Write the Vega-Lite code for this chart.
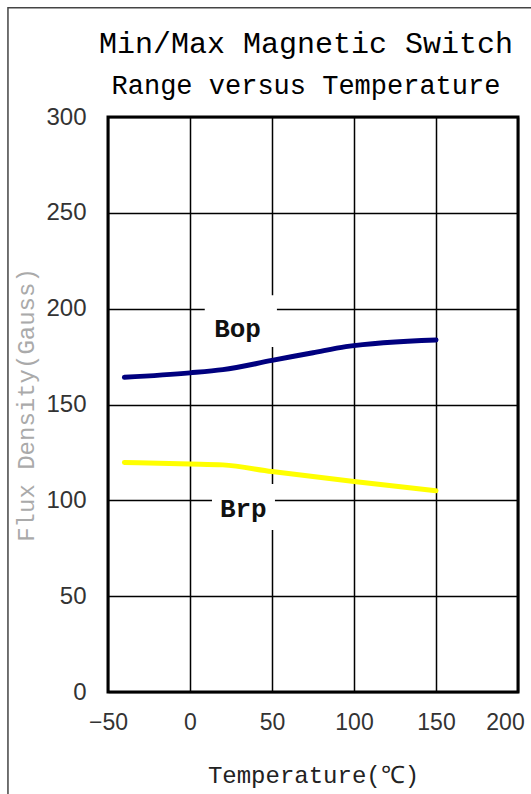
{
  "$schema": "https://vega.github.io/schema/vega-lite/v6.json",
  "autosize": "none",
  "width": 410,
  "height": 575,
  "padding": {"left": 108, "top": 117, "right": 13, "bottom": 102},
  "background": "white",
  "config": {
    "view": {"stroke": "black", "strokeWidth": 3},
    "axis": {"domain": false, "ticks": false, "gridColor": "black", "gridWidth": 1.5, "gridOpacity": 1}
  },
  "title": {
    "text": "Min/Max Magnetic Switch",
    "subtitle": "Range versus Temperature",
    "font": "Liberation Mono",
    "fontSize": 30,
    "fontWeight": "normal",
    "color": "black",
    "subtitleFont": "Liberation Mono",
    "subtitleFontSize": 27,
    "subtitleColor": "black",
    "subtitlePadding": 14,
    "offset": -92,
    "dx": -7
  },
  "datasets": {
    "curves": [
      {"series": "Bop", "temp": -40, "flux": 164.2},
      {"series": "Bop", "temp": 0, "flux": 166.5},
      {"series": "Bop", "temp": 20, "flux": 168.2},
      {"series": "Bop", "temp": 50, "flux": 173},
      {"series": "Bop", "temp": 75, "flux": 177},
      {"series": "Bop", "temp": 95, "flux": 180.2},
      {"series": "Bop", "temp": 150, "flux": 183.7},
      {"series": "Brp", "temp": -40, "flux": 119.8},
      {"series": "Brp", "temp": 0, "flux": 119},
      {"series": "Brp", "temp": 20, "flux": 118.5},
      {"series": "Brp", "temp": 50, "flux": 115},
      {"series": "Brp", "temp": 100, "flux": 109.8},
      {"series": "Brp", "temp": 150, "flux": 105}
    ],
    "labels": [
      {"series": "Bop", "temp": 29, "flux": 185.2, "x1": 9, "x2": 53, "y1": 180, "y2": 207},
      {"series": "Brp", "temp": 32.5, "flux": 91.3, "x1": 13.4, "x2": 51.8, "y1": 84.5, "y2": 108.5}
    ]
  },
  "layer": [
    {
      "data": {"name": "labels"},
      "mark": {"type": "rect", "fill": "white", "stroke": null},
      "encoding": {
        "x": {"field": "x1", "type": "quantitative",
          "scale": {"domain": [-50, 200], "nice": false, "zero": false},
          "axis": {"values": [-50, 0, 50, 100, 150, 200], "title": "Temperature(℃)",
            "titleFont": "Liberation Mono", "titleFontSize": 24, "titleFontWeight": "normal", "titleColor": "#222",
            "titlePadding": 29,
            "labelFlush": false,
            "labelFont": "Liberation Sans", "labelFontSize": 23, "labelColor": "#333", "labelPadding": 19,
            "labelOffset": {"condition": {"test": "datum.value == 200", "value": -13}, "value": 0}}},
        "x2": {"field": "x2"},
        "y": {"field": "y1", "type": "quantitative",
          "scale": {"domain": [0, 300], "nice": false},
          "axis": {"values": [0, 50, 100, 150, 200, 250, 300], "title": "Flux Density(Gauss)",
            "titleFont": "Liberation Mono", "titleFontSize": 24, "titleFontWeight": "normal", "titleColor": "#aaaaaa",
            "titlePadding": 7,
            "labelFont": "Liberation Sans", "labelFontSize": 24, "labelColor": "#333", "labelPadding": 22}},
        "y2": {"field": "y2"}
      }
    },
    {
      "data": {"name": "curves"},
      "mark": {"type": "line", "interpolate": "monotone", "strokeWidth": 5, "strokeCap": "round"},
      "encoding": {
        "x": {"field": "temp", "type": "quantitative"},
        "y": {"field": "flux", "type": "quantitative"},
        "color": {"field": "series", "type": "nominal",
          "scale": {"domain": ["Bop", "Brp"], "range": ["#00007f", "#ffff00"]}, "legend": null}
      }
    },
    {
      "data": {"name": "labels"},
      "mark": {"type": "text", "font": "Liberation Mono", "fontSize": 26, "fontWeight": "bold", "color": "#111", "baseline": "alphabetic", "align": "center"},
      "encoding": {
        "x": {"field": "temp", "type": "quantitative"},
        "y": {"field": "flux", "type": "quantitative"},
        "text": {"field": "series"}
      }
    },
    {
      "data": {"values": [{}]},
      "mark": {"type": "rect", "fill": null, "stroke": "#444", "strokeWidth": 1.5, "clip": false},
      "encoding": {
        "x": {"datum": -111, "type": "quantitative"},
        "x2": {"datum": 214},
        "y": {"datum": 357, "type": "quantitative"},
        "y2": {"datum": -62}
      }
    }
  ]
}
